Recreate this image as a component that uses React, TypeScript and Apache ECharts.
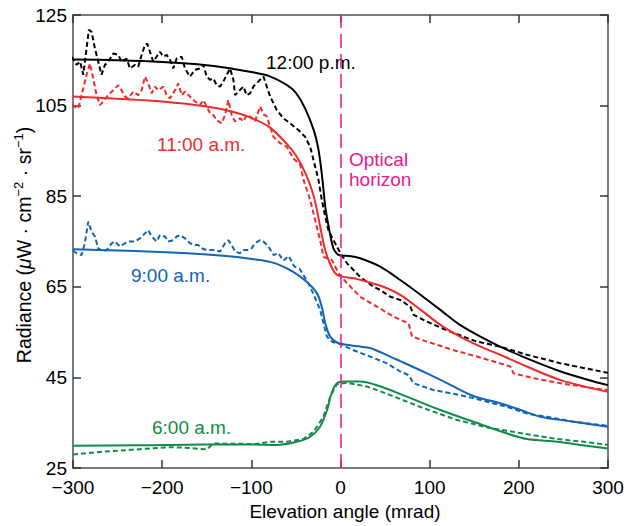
import React, { useEffect, useRef } from "react";
import * as echarts from "echarts";

const FONT = "'Liberation Sans', Arial, Helvetica, sans-serif";

// Axis settings
const xTicks = { min: -300, max: 300, interval: 100 };
const yTicks = { min: 25, max: 125, interval: 20 };

// Colours
const BLACK = "#000000";
const RED = "#f02a2a";
const BLUE = "#1264b4";
const GREEN = "#138a4a";
const MAGENTA = "#e81a8c";

// 12:00 p.m. model (solid)
const noonModelX = [-300, -250, -200, -150, -120, -100, -80, -60, -50, -40, -30, -25, -21, -17, -13, -8, -4, 0, 10, 22, 45, 67, 90, 112, 134, 157, 179, 209, 247, 284, 300];
const noonModelY = [115.2, 115.0, 114.6, 113.9, 113.1, 112.4, 111.5, 109.5, 107.8, 104.5, 99.6, 95.6, 90, 82.6, 78, 73.5, 72.3, 71.9, 71.8, 71.3, 69.4, 66.5, 63.2, 59.9, 56.6, 54, 51.8, 49.2, 46.3, 44.1, 43.3];

// 12:00 p.m. measured (dashed)
const noonMeasX = [-301.6, -296, -292, -288.5, -284.8, -282.2, -279.2, -275.4, -271.7, -268, -264.2, -260.5, -254.9, -249.2, -245.5, -239.9, -236.1, -230.5, -226.8, -223, -219.3, -216.7, -213.7, -210, -206.2, -202.5, -198.7, -195, -191.2, -187.5, -183.8, -178.1, -174.4, -168.8, -163.2, -157.6, -153.8, -150.1, -146.3, -142.6, -138.9, -135.1, -131.4, -127.6, -123.9, -120.1, -118.3, -114.5, -108.9, -105.2, -101.4, -97.7, -90.2, -86.4, -78.9, -71.4, -64, -56.5, -47.2, -39.6, -34, -30.3, -24.7, -21, -17.2, -13.5, -7.9, 0, 7.2, 22, 37, 44.6, 55.8, 67, 78.3, 82, 97, 123, 153, 179, 209, 247, 300];
const noonMeasY = [115.8, 114, 114.7, 111.8, 117.6, 121.7, 121.3, 117.6, 114.7, 111.8, 114, 114.7, 116.5, 116.2, 114.7, 115.4, 113.2, 114, 113.6, 116.2, 118.4, 118.7, 116.9, 114.7, 115.8, 116.9, 115.8, 116.2, 115.1, 113.2, 115.4, 115.8, 113.2, 111.4, 112.9, 113.2, 114, 111.4, 110.7, 111, 109.5, 109.2, 110.3, 111.8, 113.2, 110.7, 107.3, 108.1, 109.2, 107.3, 107.7, 109.2, 110.7, 111.4, 107, 104, 102.2, 101.1, 99.6, 98.1, 95.9, 93, 88.6, 84.2, 80.5, 77.5, 75.3, 72.4, 70.2, 67.2, 65, 64.3, 62.8, 62.1, 60.6, 58.8, 57.3, 55.1, 52.9, 51.8, 50, 48.1, 46];

// 11:00 a.m. model (solid)
const elevenModelX = [-300, -250, -200, -150, -120, -100, -80, -60, -49, -38, -30, -25, -21, -17, -12, -6, 0, 15, 30, 48, 67, 90, 112, 134, 157, 179, 209, 247, 300];
const elevenModelY = [107, 106.5, 105.9, 104.8, 103.6, 102.3, 100.3, 96.5, 93.7, 89.5, 85, 80.5, 76.5, 73, 70.2, 68, 67.3, 66.9, 66.1, 65, 63.2, 59.9, 56.6, 54, 51.8, 50, 47.4, 44.4, 41.8];

// 11:00 a.m. measured (dashed)
const elevenMeasX = [-301.6, -294.1, -288.5, -284.8, -281, -277.3, -273.6, -269.8, -266.1, -260.5, -254.9, -249.2, -245.5, -241.8, -238, -232.4, -226.8, -223, -219.3, -215.6, -211.8, -208.1, -204.3, -198.7, -195, -191.2, -185.6, -181.9, -178.1, -174.4, -168.8, -163.2, -157.6, -153.8, -150.1, -146.3, -142.6, -138.9, -133.2, -129.5, -125.8, -122, -118.3, -112.7, -108.9, -105.2, -101.4, -96, -90.2, -86, -82.6, -75.2, -67.7, -60.2, -52.8, -45.2, -41.5, -34, -28.4, -22.8, -19, -9.7, -2.2, 7.2, 22, 41, 59.5, 76.5, 80.2, 97, 127, 153, 179, 190.5, 194, 217, 247, 284, 300];
const elevenMeasY = [105.1, 104.4, 108.8, 111.8, 114.3, 111, 107.3, 105.1, 105.9, 107.3, 108.4, 109.5, 108.4, 107, 106.6, 108.1, 107.3, 108.4, 111.4, 109.9, 107.7, 109.2, 108.4, 109.2, 107.3, 106.6, 108.4, 109.9, 107.3, 108.1, 107, 105.9, 105.1, 106.2, 104.8, 103.3, 102.9, 101.8, 101.1, 102.9, 106.2, 102.9, 101.5, 102.2, 101.5, 102.9, 102.6, 101.5, 104.8, 103, 102.6, 98.1, 96.7, 95.9, 93.3, 92, 88.6, 84.2, 79.7, 75.3, 71.6, 70.9, 68, 65.8, 62.8, 60.6, 58.4, 56.9, 54, 52.9, 51, 49.6, 48.1, 47.4, 45.9, 44.8, 43.7, 42.6, 42.2];

// 9:00 a.m. model (solid)
const nineModelX = [-300, -230, -154, -116, -90, -79, -68, -53, -38, -26.5, -21, -17, -11.6, -4, 7, 22, 33, 48, 60, 67, 97, 120, 149, 179, 202, 224, 262, 300];
const nineModelY = [73.3, 72.9, 72.2, 71.6, 70.9, 70.5, 69.8, 68.3, 66.1, 63.6, 60.6, 56.9, 54, 52.7, 52.2, 51.8, 51.5, 50.3, 49.2, 48.6, 45.9, 43.7, 40.9, 39.3, 37.8, 36.3, 35.2, 34.1];

// 9:00 a.m. measured (dashed)
const nineMeasX = [-300, -296, -290.4, -286.7, -282.9, -279.2, -275.4, -271.7, -266.1, -262.3, -256.7, -253, -247.4, -241.8, -236.1, -230.5, -224.9, -219.3, -215.6, -211.8, -206.2, -202.5, -196.9, -193.1, -187.5, -183.8, -180, -174.4, -168.8, -163.2, -159.4, -155.7, -150.1, -146.3, -140.7, -135.1, -129.5, -125.8, -122, -118.3, -112.7, -108.9, -103.3, -99.6, -95.8, -90.2, -86.5, -80.9, -75, -70, -64, -58, -52, -46, -41.5, -34, -28.4, -22.8, -19, -15.3, -9.7, 1.6, 14.6, 33.3, 52, 67, 76.5, 82, 104.4, 134, 149.3, 186.8, 209.3, 231.7, 261.6, 300];
const nineMeasY = [73, 72.4, 72, 74.6, 79.4, 77.2, 76.1, 73.5, 72.8, 73.1, 74.6, 75, 73.9, 74.6, 75, 75, 75.7, 76.8, 77.5, 76.1, 75, 76.4, 76.1, 75, 75.3, 76.1, 76.4, 75.7, 74.6, 74.2, 74.2, 73.5, 73.1, 73.1, 73.1, 72.8, 74.6, 75.3, 74.2, 72.8, 72.4, 73.1, 73.1, 73.5, 74.6, 75.3, 75, 73.9, 72, 72.5, 70.8, 71.8, 69.5, 69, 67.6, 65, 62.5, 59.9, 56.9, 54, 52.9, 52.2, 51, 49.6, 48.1, 46.3, 45.5, 43.7, 42.2, 41.1, 40.4, 38.5, 37, 36.3, 35.2, 34.3];

// 6:00 a.m. model (solid)
const sixModelX = [-300, -229, -154, -98, -72, -49, -34, -23, -15, -10, -4, 3, 22, 45, 75, 112, 149, 187, 209, 243, 269, 300];
const sixModelY = [29.9, 30, 30.2, 30.2, 30.1, 30.8, 31.9, 34.1, 37.8, 41.5, 43.7, 44.1, 44.1, 43, 40.7, 37.8, 35.2, 32.6, 31.4, 30.8, 30.1, 29.3];

// 6:00 a.m. measured (dashed)
const sixMeasX = [-300, -266, -229, -191, -176, -150, -142.6, -94, -79, -60, -41.6, -30.3, -19.1, -11.6, -4.1, 7.1, 29.6, 55.8, 93.2, 130.7, 168, 205.5, 243, 276.6, 300];
const sixMeasY = [28, 28.6, 29.1, 29.6, 29.5, 29.1, 30.4, 30.3, 30.8, 30.8, 31.4, 33, 36.3, 40.7, 43.5, 43.8, 43, 41.1, 38.2, 35.6, 33.8, 32.6, 31.4, 30.7, 30.1];

// Text
const seriesLabels = ["12:00 p.m.", "11:00 a.m.", "9:00 a.m.", "6:00 a.m."];
const horizonLabel = "Optical\nhorizon";
const xTitle = "Elevation angle (mrad)";

const pairs = (xs: number[], ys: number[]) => xs.map((x, i) => [x, ys[i]]);
const minus = (v: number) => (v < 0 ? "\u2212" + Math.abs(v) : String(v));

function solid(name: string, xs: number[], ys: number[], color: string) {
  return {
    name,
    type: "line",
    data: pairs(xs, ys),
    showSymbol: false,
    smooth: 0.3,
    lineStyle: { color, width: 2 },
    z: 3,
  };
}
function dashed(name: string, xs: number[], ys: number[], color: string) {
  return {
    name,
    type: "line",
    data: pairs(xs, ys),
    showSymbol: false,
    lineStyle: { color, width: 2, type: [5, 3] },
    z: 2,
  };
}

export default function App() {
  const ref = useRef<HTMLDivElement>(null);
  useEffect(() => {
    if (!ref.current) return;
    const chart = echarts.init(ref.current, null, { renderer: "svg" });
    const axisLine = { show: true, onZero: false, lineStyle: { color: "#7a7a7a", width: 2 } };
    const axisTick = { show: true, inside: true, length: 8, lineStyle: { color: "#333", width: 1.5 } };
    const textBase = { fontFamily: FONT, fontSize: 19 };
    chart.setOption({
      animation: false,
      backgroundColor: "#ffffff",
      grid: { left: 73, right: 23, top: 15, bottom: 58, containLabel: false },
      xAxis: [
        {
          type: "value", position: "bottom", ...xTicks,
          axisLine, axisTick, splitLine: { show: false },
          axisLabel: { ...textBase, lineHeight: 14, color: "#000", margin: 12, formatter: minus },
        },
        {
          type: "value", position: "top", ...xTicks,
          axisLine, axisTick, splitLine: { show: false }, axisLabel: { show: false },
        },
      ],
      yAxis: [
        {
          type: "value", position: "left", ...yTicks,
          axisLine, axisTick, splitLine: { show: false },
          axisLabel: { ...textBase, lineHeight: 14, padding: [0, 0, 2, 0], color: "#000", margin: 6 },
        },
        {
          type: "value", position: "right", ...yTicks,
          axisLine, axisTick, splitLine: { show: false }, axisLabel: { show: false },
        },
      ],
      series: [
        {
          type: "line",
          data: [],
          markLine: {
            silent: true,
            symbol: ["none", "none"],
            label: { show: false },
            lineStyle: { color: MAGENTA, width: 1.5, type: [14, 6] },
            data: [{ xAxis: 0 }],
          },
        },
        dashed("12 measured", noonMeasX, noonMeasY, BLACK),
        dashed("11 measured", elevenMeasX, elevenMeasY, RED),
        dashed("9 measured", nineMeasX, nineMeasY, BLUE),
        dashed("6 measured", sixMeasX, sixMeasY, GREEN),
        solid("12 model", noonModelX, noonModelY, BLACK),
        solid("11 model", elevenModelX, elevenModelY, RED),
        solid("9 model", nineModelX, nineModelY, BLUE),
        solid("6 model", sixModelX, sixModelY, GREEN),
      ],
      graphic: [
        { type: "text", x: 266, y: 62, style: { text: seriesLabels[0], fill: BLACK, ...textBase, align: "left", verticalAlign: "middle" } },
        { type: "text", x: 157, y: 144, style: { text: seriesLabels[1], fill: RED, ...textBase, align: "left", verticalAlign: "middle" } },
        { type: "text", x: 131, y: 275, style: { text: seriesLabels[2], fill: BLUE, ...textBase, align: "left", verticalAlign: "middle" } },
        { type: "text", x: 152, y: 427, style: { text: seriesLabels[3], fill: GREEN, ...textBase, align: "left", verticalAlign: "middle" } },
        { type: "text", x: 349, y: 169, style: { text: horizonLabel, fill: MAGENTA, ...textBase, lineHeight: 20, align: "left", verticalAlign: "middle" } },
        { type: "text", x: 345, y: 511, style: { text: xTitle, fill: "#000", ...textBase, align: "center", verticalAlign: "middle" } },
        {
          type: "text", x: 24, y: 245, rotation: Math.PI / 2,
          style: {
            text: "Radiance ({it|\u03bc}W \u00b7 cm{sup|\u22122} \u00b7 sr{sup|\u22121})",
            fill: "#000", fontFamily: FONT, fontSize: 19.5, lineHeight: 24,
            align: "center", verticalAlign: "middle",
            rich: {
              it: { fontFamily: FONT, fontSize: 19.5, fontStyle: "italic", lineHeight: 24, fill: "#000" },
              sup: { fontFamily: FONT, fontSize: 13, verticalAlign: "top", lineHeight: 24, fill: "#000" },
            },
          },
        },
      ],
    });
    return () => chart.dispose();
  }, []);
  return <div ref={ref} style={{ position: "fixed", left: 0, top: 0, width: 631, height: 526 }} />;
}
